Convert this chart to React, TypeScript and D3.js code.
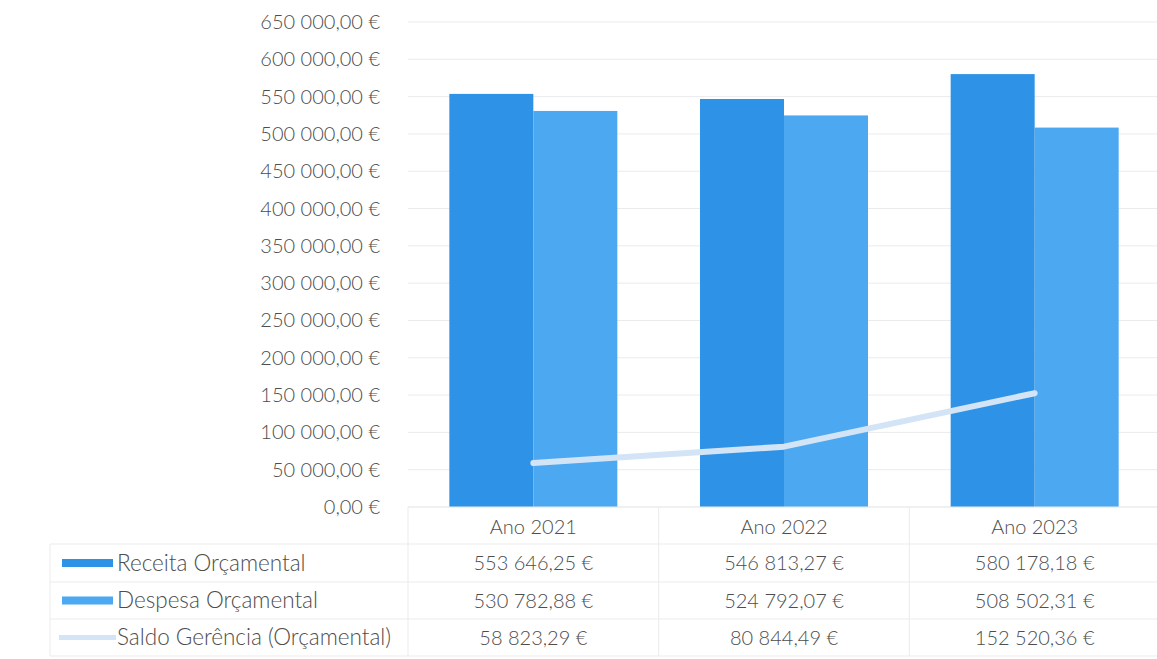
import * as d3 from 'd3';
import React from 'react';

const years = ['Ano 2021', 'Ano 2022', 'Ano 2023'];
const receita = [553646.25, 546813.27, 580178.18];
const despesa = [530782.88, 524792.07, 508502.31];
const saldo = [58823.29, 80844.49, 152520.36];
const seriesNames = ['Receita Orçamental', 'Despesa Orçamental', 'Saldo Gerência (Orçamental)'];
const yTicks = d3.range(0, 650001, 50000);

const W = 1157;
const H = 659;
const FONT = 'Lato, "Open Sans", sans-serif';
const TEXT = '#4d4d4d';
const GRID = '#ebebeb';
const C_REC = '#2e93e6';
const C_DES = '#4ba8f1';
const C_SAL = '#d3e4f6';

const locale = d3.formatLocale({ decimal: ',', thousands: ' ', grouping: [3], currency: ['', ' €'] });
const fmt = (v: number) => locale.format(',.2f')(v) + ' €';

const App: React.FC = () => {
  const plotLeft = 408;
  const plotRight = 1160;
  const y = d3.scaleLinear().domain([0, 650000]).range([507, 22]);
  const x = d3.scaleBand<string>().domain(years).range([plotLeft, plotRight]);
  const inner = d3.scaleBand<string>().domain(['r', 'd']).range([0, 168]);
  const groupOffset = (x.bandwidth() - 168) / 2;
  const cx = (c: string) => (x(c) ?? 0) + x.bandwidth() / 2;

  const line = d3.line<number>()
    .x((_, i) => cx(years[i]))
    .y(d => y(d));

  const rowTop = [507, 544, 582, 619, 656];
  const rowMid = (i: number) => (rowTop[i] + rowTop[i + 1]) / 2;
  const rows = [receita, despesa, saldo];

  return (
    <svg width={W} height={H} style={{ position: 'absolute', left: 0, top: 0, background: '#fff' }}
      fontFamily={FONT} fontWeight={300}>
      {/* gridlines */}
      {yTicks.map(t => (
        <line key={t} x1={plotLeft} x2={plotRight} y1={y(t)} y2={y(t)} stroke={GRID} strokeWidth={1} />
      ))}
      {/* y tick labels */}
      {yTicks.map(t => (
        <text key={'l' + t} x={380} y={y(t)} dy="0.35em" textAnchor="end" fontSize={20} fill={TEXT}>
          {fmt(t)}
        </text>
      ))}
      {/* bars */}
      {years.map((c, i) => (
        <g key={c} transform={`translate(${(x(c) ?? 0) + groupOffset},0)`}>
          <rect x={inner('r')} width={inner.bandwidth()} y={y(receita[i])} height={y(0) - y(receita[i])} fill={C_REC} />
          <rect x={inner('d')} width={inner.bandwidth()} y={y(despesa[i])} height={y(0) - y(despesa[i])} fill={C_DES} />
        </g>
      ))}
      {/* saldo line */}
      <path d={line(saldo) ?? ''} fill="none" stroke={C_SAL} strokeWidth={6} strokeLinecap="round" strokeLinejoin="round" />

      {/* data table grid */}
      {rowTop.slice(1).map(r => (
        <line key={'h' + r} x1={50} x2={plotRight} y1={r} y2={r} stroke={GRID} strokeWidth={1} />
      ))}
      <line x1={plotLeft} x2={plotRight} y1={rowTop[0]} y2={rowTop[0]} stroke={GRID} strokeWidth={1} />
      {[plotLeft, ...years.map(c => (x(c) ?? 0) + x.bandwidth())].map(v => (
        <line key={'v' + v} x1={v} x2={v} y1={rowTop[0]} y2={rowTop[4]} stroke={GRID} strokeWidth={1} />
      ))}
      <line x1={50} x2={50} y1={rowTop[1]} y2={rowTop[4]} stroke={GRID} strokeWidth={1} />

      {/* header */}
      {years.map(c => (
        <text key={'hd' + c} x={cx(c)} y={rowMid(0) + 1} dy="0.35em" textAnchor="middle" fontSize={20} fill={TEXT}>{c}</text>
      ))}
      {/* rows */}
      {rows.map((vals, ri) => (
        <g key={'row' + ri}>
          {vals.map((v, ci) => (
            <text key={ci} x={cx(years[ci])} y={rowMid(ri + 1)} dy="0.35em" textAnchor="middle" fontSize={20} fill={TEXT}>
              {fmt(v)}
            </text>
          ))}
          <text x={117} y={rowMid(ri + 1)} dy="0.35em" fontSize={22.5} fill={TEXT}>{seriesNames[ri]}</text>
        </g>
      ))}
      {/* legend keys */}
      <rect x={62} y={rowMid(1) - 4} width={51} height={8} fill={C_REC} />
      <rect x={62} y={rowMid(2) - 4} width={51} height={8} fill={C_DES} />
      <line x1={59} x2={116} y1={rowMid(3)} y2={rowMid(3)} stroke={C_SAL} strokeWidth={5} />
    </svg>
  );
};

export default App;
